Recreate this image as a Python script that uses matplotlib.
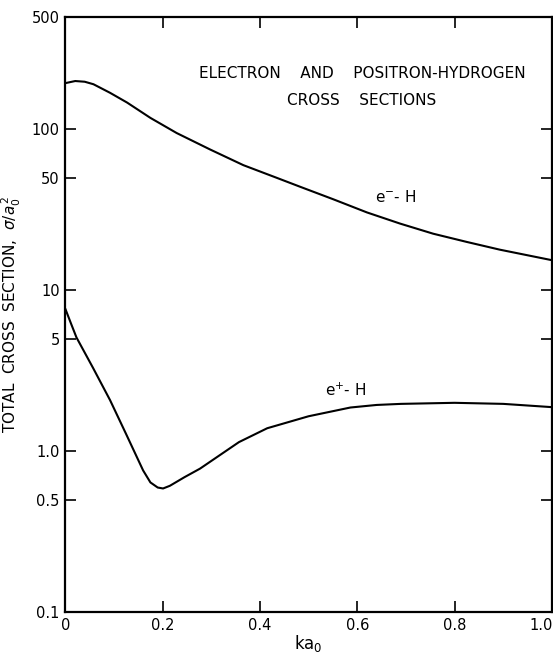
import matplotlib
matplotlib.use("Agg")
import matplotlib.pyplot as plt
from matplotlib.ticker import FixedLocator, FixedFormatter, NullLocator
from matplotlib.transforms import ScaledTranslation

# e- - H total cross section (units of a0^2) vs k*a0
em_x = [0.0, 0.0205, 0.04, 0.058, 0.092, 0.127, 0.175, 0.229, 0.298, 0.366, 0.435,
        0.483, 0.551, 0.620, 0.688, 0.756, 0.825, 0.893, 1.0]
em_y = [194, 200, 198, 191, 169, 147, 118, 95, 75, 60, 50,
        44, 36.8, 30.5, 26.0, 22.5, 20.0, 17.9, 15.4]

# e+ - H total cross section
ep_x = [0.0, 0.012, 0.023, 0.057, 0.092, 0.125, 0.16, 0.175, 0.19, 0.201, 0.215,
        0.245, 0.277, 0.357, 0.415, 0.5, 0.586, 0.64, 0.69, 0.8, 0.9, 1.0]
ep_y = [7.7, 6.2, 5.1, 3.3, 2.08, 1.28, 0.76, 0.64, 0.595, 0.587, 0.61,
        0.69, 0.78, 1.14, 1.39, 1.65, 1.87, 1.94, 1.97, 2.0, 1.97, 1.88]

yticks = [0.1, 0.5, 1.0, 5, 10, 50, 100, 500]
ytick_labels = ["0.1", "0.5", "1.0", "5", "10", "50", "100", "500"]
xticks = [0, 0.2, 0.4, 0.6, 0.8, 1.0]
xtick_labels = ["0", "0.2", "0.4", "0.6", "0.8", "1.0"]

fig = plt.figure(figsize=(5.53, 6.54), dpi=100)
ax = fig.add_axes([0.118, 0.064, 0.880, 0.910])

ax.plot(em_x, em_y, color="black", lw=1.5, solid_capstyle="round", solid_joinstyle="round")
ax.plot(ep_x, ep_y, color="black", lw=1.5, solid_capstyle="round", solid_joinstyle="round")

ax.set_yscale("log")
ax.set_xlim(0, 1.0)
ax.set_ylim(0.1, 500)

ax.yaxis.set_major_locator(FixedLocator(yticks))
ax.yaxis.set_major_formatter(FixedFormatter(ytick_labels))
ax.yaxis.set_minor_locator(NullLocator())
ax.xaxis.set_major_locator(FixedLocator(xticks))
ax.xaxis.set_major_formatter(FixedFormatter(xtick_labels))
ax.xaxis.set_minor_locator(NullLocator())

ax.tick_params(axis="both", which="major", direction="in", length=8, width=1.2,
               labelsize=10.5, top=True, right=True, pad=4)
for s in ax.spines.values():
    s.set_linewidth(1.6)

# keep the last x tick label inside the figure
last_tick = ax.xaxis.get_major_ticks()[-1]
last_tick.label1.set_horizontalalignment("right")
last_tick.label1.set_transform(last_tick.label1.get_transform() +
                               ScaledTranslation(0.01, 0, fig.dpi_scale_trans))

ax.set_xlabel(r"ka$_0$", fontsize=12, labelpad=0)
ax.set_ylabel(r"TOTAL  CROSS  SECTION,  $\sigma/a_0^{\,2}$", fontsize=11, labelpad=6)

ax.text(0.61, 0.905, "ELECTRON    AND    POSITRON-HYDROGEN", transform=ax.transAxes,
        ha="center", va="center", fontsize=11)
ax.text(0.61, 0.86, "CROSS    SECTIONS", transform=ax.transAxes,
        ha="center", va="center", fontsize=11)

ax.text(0.637, 38, r"e$^{-}$- H", fontsize=11, ha="left", va="center")
ax.text(0.534, 2.4, r"e$^{+}$- H", fontsize=11, ha="left", va="center")

fig.savefig("out.png", dpi=100)
